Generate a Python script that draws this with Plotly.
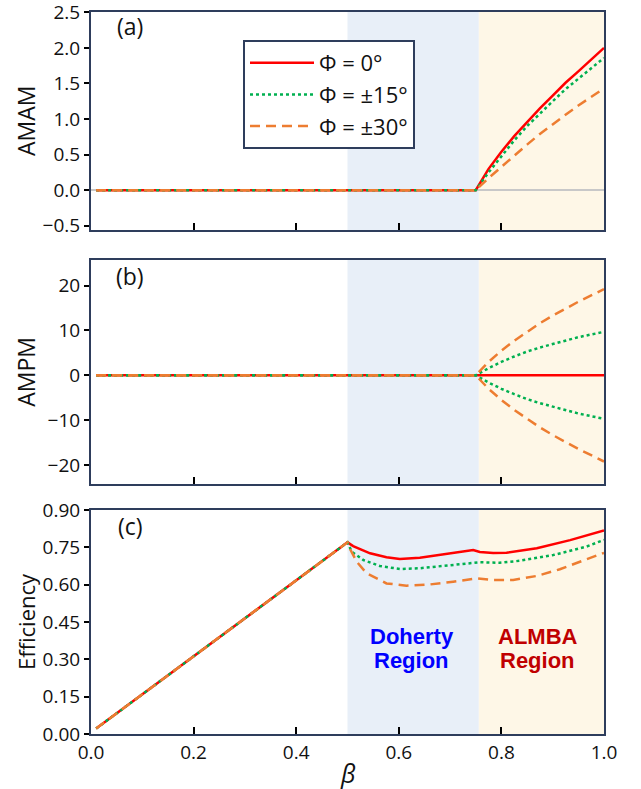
import plotly.graph_objects as go

# ---------------- data ----------------
series_names = ["Φ = 0°", "Φ = ±15°", "Φ = ±30°"]
series_colors = ["#ff0000", "#00b050", "#ed7d31"]
series_dash = ["solid", "dot", "10px,6px"]

region_doherty = [0.5, 0.756]
region_almba = [0.756, 1.0]

# AMAM / AMPM share the same beta grid
beta_am = [0.01, 0.75, 0.775, 0.8, 0.825, 0.85, 0.875, 0.9, 0.925, 0.95, 0.975, 1.0]
amam_0 = [0, 0, 0.30, 0.54, 0.76, 0.96, 1.15, 1.33, 1.51, 1.67, 1.84, 2.0]
amam_15 = [0, 0, 0.25, 0.48, 0.70, 0.90, 1.08, 1.25, 1.42, 1.57, 1.72, 1.86]
amam_30 = [0, 0, 0.17, 0.33, 0.49, 0.64, 0.79, 0.93, 1.06, 1.19, 1.31, 1.43]

ampm_0 = [0, 0, 0, 0, 0, 0, 0, 0, 0, 0, 0, 0]
ampm_p15 = [0, 0, 1.6, 3.0, 4.2, 5.3, 6.2, 7.0, 7.8, 8.5, 9.1, 9.7]
ampm_m15 = [0, 0, -1.6, -3.0, -4.2, -5.3, -6.2, -7.0, -7.8, -8.5, -9.1, -9.7]
ampm_p30 = [0, 0, 3.0, 5.5, 7.7, 9.7, 11.6, 13.3, 14.9, 16.4, 17.8, 19.2]
ampm_m30 = [0, 0, -3.0, -5.5, -7.7, -9.7, -11.6, -13.3, -14.9, -16.4, -17.8, -19.2]

# Efficiency: common linear part, then per-series tail
beta_lin = [0.01, 0.1, 0.2, 0.3, 0.4]
eff_lin = [0.022, 0.16, 0.312, 0.465, 0.618]

beta_eff0 = [0.5, 0.511, 0.544, 0.576, 0.602, 0.641, 0.706, 0.745, 0.758, 0.784, 0.81, 0.869, 0.934, 1.0]
eff_0 = [0.77, 0.755, 0.726, 0.71, 0.703, 0.708, 0.726, 0.739, 0.731, 0.727, 0.728, 0.746, 0.779, 0.818]
beta_eff15 = [0.5, 0.508, 0.531, 0.563, 0.602, 0.641, 0.706, 0.758, 0.797, 0.836, 0.901, 0.966, 1.0]
eff_15 = [0.77, 0.733, 0.699, 0.675, 0.663, 0.666, 0.679, 0.69, 0.688, 0.696, 0.719, 0.753, 0.78]
beta_eff30 = [0.5, 0.506, 0.518, 0.537, 0.576, 0.615, 0.661, 0.706, 0.752, 0.784, 0.823, 0.869, 0.914, 0.953, 0.986, 1.0]
eff_30 = [0.77, 0.739, 0.692, 0.646, 0.605, 0.596, 0.601, 0.612, 0.625, 0.619, 0.619, 0.635, 0.662, 0.692, 0.719, 0.728]

x_ticks = [0.0, 0.2, 0.4, 0.6, 0.8, 1.0]
amam_ticks = [-0.5, 0.0, 0.5, 1.0, 1.5, 2.0, 2.5]
ampm_ticks = [-20, -10, 0, 10, 20]
eff_ticks = [0.0, 0.15, 0.30, 0.45, 0.60, 0.75, 0.90]

# ---------------- figure ----------------
FONT = "Open Sans"
FRAME = "#2e3d5c"
LW = 2.5

fig = go.Figure()


def add(x, y, i, xa, ya, show=False):
    fig.add_trace(go.Scatter(
        x=x, y=y, mode="lines", name=series_names[i],
        line=dict(color=series_colors[i], width=LW, dash=series_dash[i]),
        xaxis=xa, yaxis=ya, showlegend=show, legendgroup="g%d" % i,
        hoverinfo="skip"))


# panel (a)
add(beta_am, amam_0, 0, "x", "y", True)
add(beta_am, amam_15, 1, "x", "y", True)
add(beta_am, amam_30, 2, "x", "y", True)
# panel (b)
add(beta_am, ampm_0, 0, "x2", "y2")
add(beta_am, ampm_p15, 1, "x2", "y2")
add(beta_am, ampm_m15, 1, "x2", "y2")
add(beta_am, ampm_p30, 2, "x2", "y2")
add(beta_am, ampm_m30, 2, "x2", "y2")
# panel (c)
add(beta_lin + beta_eff0, eff_lin + eff_0, 0, "x3", "y3")
add(beta_lin + beta_eff15, eff_lin + eff_15, 1, "x3", "y3")
add(beta_lin + beta_eff30, eff_lin + eff_30, 2, "x3", "y3")

# layout geometry (pixels -> paper)
W, H = 641, 789
mt, mb, ml, mr = 12, 55, 91, 37
ph = H - mt - mb
pw = W - ml - mr


def dom(top_px, bot_px):
    return [(H - mb - bot_px) / ph, (H - mb - top_px) / ph]


dom_a = dom(12, 230)
dom_b = dom(260, 483.5)
dom_c = dom(510, 734)

tickfont = dict(family=FONT, size=19, color="#111")


def xaxis(anchor, labels):
    return dict(range=[0, 1], tickvals=x_ticks, ticks="inside", ticklen=7,
                tickwidth=2, tickcolor="black", showticklabels=labels,
                tickformat=".1f", tickfont=tickfont, showline=True,
                linecolor=FRAME, linewidth=2, mirror=True, showgrid=False,
                zeroline=False, anchor=anchor, automargin=False)


def yaxis(anchor, d, rng, tv, fmt, zl=False):
    return dict(domain=d, range=rng, tickvals=tv, ticks="outside", ticklen=5,
                tickwidth=2, tickcolor="black", tickformat=fmt,
                tickfont=tickfont, showline=True, linecolor=FRAME, linewidth=2,
                mirror=True, showgrid=False, zeroline=zl, zerolinecolor="#c8c8c8",
                zerolinewidth=1.5, anchor=anchor, automargin=False,
                ticklabeloverflow="allow")


def yright(over, rng, tv):
    return dict(overlaying=over, side="right", anchor=over.replace("y", "x"),
                range=rng, tickvals=tv, ticks="inside", ticklen=9, tickwidth=2,
                tickcolor="black", showticklabels=False, showline=False,
                showgrid=False, zeroline=False, automargin=False)


rng_a = [-0.56, 2.505]
rng_b = [-24.1, 25.7]
rng_c = [0, 0.9]

fig.update_layout(
    width=W, height=H,
    margin=dict(l=ml, r=mr, t=mt, b=mb, autoexpand=False),
    paper_bgcolor="white", plot_bgcolor="white",
    font=dict(family=FONT, color="#111"),
    xaxis=dict(domain=[0, 1], **xaxis("y", False)),
    xaxis2=dict(domain=[0, 1], **xaxis("y2", False)),
    xaxis3=dict(domain=[0, 1], **xaxis("y3", True)),
    yaxis=yaxis("x", dom_a, rng_a, amam_ticks, ".1f", zl=True),
    yaxis2=yaxis("x2", dom_b, rng_b, ampm_ticks, "d"),
    yaxis3=yaxis("x3", dom_c, rng_c, eff_ticks, ".2f"),
    yaxis4=yright("y", rng_a, amam_ticks),
    yaxis5=yright("y2", rng_b, ampm_ticks),
    yaxis6=yright("y3", rng_c, eff_ticks),
    legend=dict(x=(243 - ml) / pw, y=(H - mb - 40) / ph,
                xanchor="left", yanchor="top", bgcolor="white",
                bordercolor=FRAME, borderwidth=2,
                font=dict(family=FONT, size=22, color="#111"),
                tracegroupgap=0, traceorder="normal", itemwidth=64),
    showlegend=True,
)

# shaded regions
shapes = []
for xr, yr in [("x", "y"), ("x2", "y2"), ("x3", "y3")]:
    for reg, col in [(region_doherty, "#e8eff8"), (region_almba, "#fef7e7")]:
        shapes.append(dict(type="rect", xref=xr, yref=yr + " domain",
                           x0=reg[0], x1=reg[1], y0=0, y1=1, fillcolor=col,
                           line=dict(width=0), layer="below"))
fig.update_layout(shapes=shapes)

ann = []
# axis titles
xt = (26 - ml) / pw
for title, d, size in [("AMAM", dom_a, 23), ("AMPM", dom_b, 23), ("Efficiency", dom_c, 22)]:
    ann.append(dict(text=title, xref="paper", yref="paper", x=xt,
                    y=(d[0] + d[1]) / 2, textangle=-90, showarrow=False,
                    font=dict(family=FONT, size=size, color="#111"),
                    xanchor="center", yanchor="middle"))
# panel labels
for lab, xr, yr, sh in [("(a)", "x", "y", -14), ("(b)", "x2", "y2", -16), ("(c)", "x3", "y3", -16)]:
    ann.append(dict(text=lab, xref=xr + " domain", yref=yr + " domain",
                    x=(130 - ml) / pw, y=1, yshift=sh, showarrow=False,
                    xanchor="center", yanchor="middle",
                    font=dict(family=FONT, size=23, color="#111")))
# region labels
for txt, xc, col in [("Doherty", 0.625, "#0000ff"), ("ALMBA", 0.871, "#c00000")]:
    ann.append(dict(text="<b>%s</b>" % txt, x=xc, y=0.393, xref="x3", yref="y3",
                    showarrow=False, font=dict(family="Liberation Sans", size=22, color=col)))
    ann.append(dict(text="<b>Region</b>", x=xc, y=0.296, xref="x3", yref="y3",
                    showarrow=False, font=dict(family="Liberation Sans", size=22, color=col)))
# x title
ann.append(dict(text="<i>β</i>", xref="paper", yref="paper",
                x=(348 - ml) / pw, y=(H - mb - 773) / ph,
                showarrow=False, xanchor="center", yanchor="middle",
                font=dict(family=FONT, size=25, color="#111")))
fig.update_layout(annotations=ann)

fig.write_html("out.html")
